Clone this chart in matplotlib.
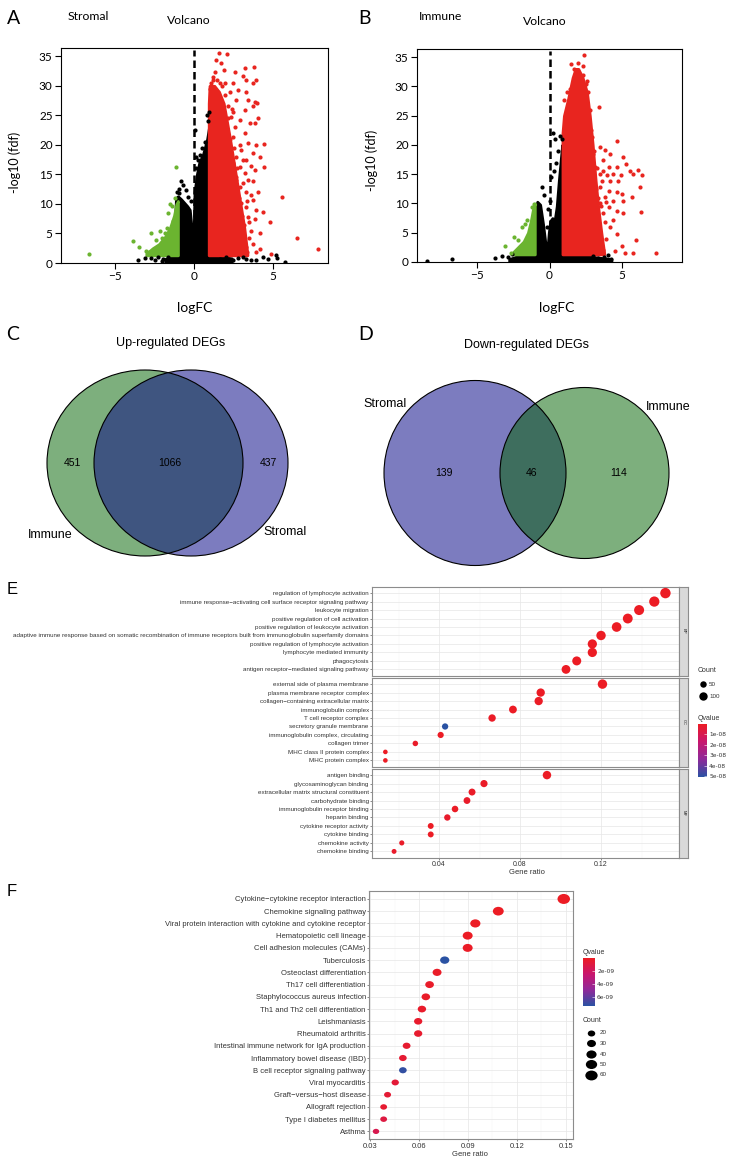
import numpy as np
import matplotlib
matplotlib.use('Agg')
import matplotlib.pyplot as plt
from matplotlib.patches import Ellipse
from matplotlib.path import Path
from matplotlib.transforms import Affine2D
from matplotlib.colors import LinearSegmentedColormap, Normalize
from matplotlib.cm import ScalarMappable

# ---------------- data ----------------
# volcano A (Stromal): dense clouds as upper envelopes, sparse points as pairs
blackA_env_x = [-1.8, -1.3, -1.12, -1.0, -0.8, -0.6, -0.4, -0.25, -0.1, -0.02, 0.05, 0.2, 0.35, 0.6, 0.85, 0.97, 1.0, 1.6, 2.4]
blackA_env_y = [0.7, 1.1, 11.0, 11.3, 10.8, 10.2, 9.6, 9.0, 5.0, 3.0, 12.0, 15.0, 17.0, 18.5, 21.0, 23.0, 1.3, 1.1, 0.8]
redA_env_x = [0.95, 1.0, 1.3, 1.6, 1.9, 2.1, 2.3, 2.6, 2.9, 3.2, 3.4]
redA_env_y = [27, 30, 30, 29, 27, 24, 21, 16, 11, 6, 1.5]
greenA_env_x = [-3.0, -2.6, -2.2, -1.8, -1.5, -1.25, -1.1, -1.0]
greenA_env_y = [1.6, 2.5, 3.2, 4.5, 6.0, 8.0, 10.0, 10.5]
blackA_pts = [(-3.52, 0.57), (-3.1, 0.85), (-2.68, 0.9), (-2.47, 0.57), (-2.26, 1.0), (-1.94, 0.74), (-2.0, 0.3),
              (-1.62, 1.0), (-1.41, 0.57), (1.65, 0.74), (2.07, 1.0), (2.49, 0.57), (2.8, 0.9), (3.12, 1.0),
              (3.33, 0.74), (3.65, 0.57), (3.97, 0.45), (4.39, 1.0), (4.7, 0.74), (5.19, 1.3), (5.27, 0.85),
              (5.76, 0.17), (-0.78, 13.8), (-0.65, 13.2), (-0.5, 12.4), (-0.9, 12.6), (0.84, 25.1), (0.06, 22.6),
              (0.12, 18.0), (0.25, 17.5), (0.5, 19.5), (0.7, 20.5), (0.9, 24.0), (-0.2, 10.5), (-0.35, 11.2),
              (-1.05, 12.0), (-0.95, 11.8), (0.95, 25.5), (0.4, 18.3), (0.15, 16.0)]
redA_pts = [(1.6, 35.6), (2.13, 35.3), (1.43, 34.3), (3.23, 33.0), (3.8, 33.1), (1.33, 32.4), (1.9, 32.6), (2.6, 32.4),
            (3.12, 31.6), (3.33, 31.0), (3.97, 31.0), (2.49, 30.5), (3.76, 30.5), (2.8, 29.3), (3.3, 29.0), (2.28, 29.0),
            (2.7, 27.6), (3.44, 27.6), (3.86, 27.3), (4.0, 27.1), (3.23, 25.9), (3.76, 26.5), (2.38, 24.8), (2.9, 24.2),
            (3.54, 23.7), (3.86, 23.7), (2.6, 23.1), (3.23, 22.0), (2.49, 21.4), (3.44, 20.3), (3.97, 20.0), (4.43, 20.2),
            (3.0, 19.1), (3.76, 18.6), (2.7, 18.0), (3.33, 17.4), (4.43, 16.3), (2.9, 16.3), (3.86, 15.7), (3.23, 15.2),
            (3.44, 14.0), (3.76, 13.8), (2.7, 14.0), (2.9, 12.9), (3.33, 12.1), (5.61, 11.1), (2.6, 11.2), (3.76, 10.6),
            (3.0, 10.1), (3.33, 9.5), (3.97, 8.9), (4.39, 8.7), (2.49, 8.4), (3.44, 7.8), (3.86, 7.5), (4.81, 7.0),
            (3.12, 6.1), (3.65, 5.5), (2.6, 5.0), (4.18, 5.0), (6.56, 4.3), (3.0, 4.1), (3.76, 3.3), (3.33, 2.7),
            (2.9, 2.4), (4.18, 2.4), (4.87, 1.6), (7.87, 2.4), (2.28, 1.9), (3.97, 1.9), (1.2, 31.5), (1.5, 31.0),
            (1.8, 30.0), (1.1, 30.5), (1.7, 33.8), (2.2, 26.5), (2.0, 28.5), (2.4, 26.0), (2.55, 19.5), (2.2, 24.5),
            (3.1, 13.5), (2.8, 9.0), (3.6, 11.5), (3.1, 3.0), (2.75, 6.5), (3.5, 4.2), (4.1, 12.0), (4.2, 18.0),
            (3.6, 16.5), (4.05, 24.5), (2.3, 21.0), (2.5, 17.0), (2.65, 14.5), (2.85, 11.0), (3.05, 8.0), (3.2, 6.5),
            (2.45, 12.0), (2.75, 16.0), (2.1, 22.0), (2.95, 20.0), (3.15, 17.5), (2.5, 25.5), (1.95, 30.5),
            (3.4, 10.5), (3.5, 7.0), (2.3, 3.5), (2.6, 2.0), (3.4, 1.8), (1.4, 1.5), (1.8, 1.6), (1.25, 31.0),
            (1.0, 29.5), (1.65, 30.5)]
greenA_pts = [(-6.65, 1.47), (-3.84, 3.74), (-3.48, 2.7), (-2.68, 5.1), (-2.15, 5.5), (-1.84, 5.1), (-1.52, 5.5),
              (-1.52, 10.0), (-1.1, 16.3), (-1.31, 7.1), (-1.62, 8.4), (-2.36, 3.85), (-3.0, 2.0), (-2.8, 1.8),
              (-1.2, 11.0), (-1.4, 9.6), (-2.0, 4.3), (-1.7, 6.0)]

# volcano B (Immune)
blackB_env_x = [-2.8, -2.2, -1.1, -1.02, -0.85, -0.65, -0.45, -0.3, -0.15, -0.05, 0.05, 0.2, 0.35, 0.5, 0.65, 0.8, 0.88, 0.92, 2.5, 4.3]
blackB_env_y = [0.5, 1.0, 1.1, 8.5, 10.3, 9.8, 6.5, 3.5, 2.0, 5.0, 7.0, 7.5, 7.0, 9.5, 14.0, 18.0, 20.0, 1.2, 1.0, 0.5]
redB_env_x = [0.9, 1.0, 1.3, 1.6, 1.8, 2.0, 2.3, 2.6, 2.8, 3.0, 3.2, 3.4, 3.6, 3.8]
redB_env_y = [22, 25, 28, 31.5, 33, 33, 31.5, 29, 25, 20, 14, 9, 5, 1.5]
greenB_env_x = [-2.6, -2.2, -1.8, -1.5, -1.3, -1.15, -1.02]
greenB_env_y = [1.5, 2.5, 3.5, 5.0, 7.0, 9.0, 10.0]
blackB_pts = [(-8.5, 0.1), (-6.8, 0.5), (-3.8, 0.7), (-3.3, 1.0), (-2.9, 0.8), (-2.6, 1.3), (3.0, 1.1), (3.4, 0.6),
              (3.8, 0.9), (4.05, 1.2), (4.3, 0.5), (-0.5, 12.8), (0.25, 22.1), (0.4, 21.0), (0.1, 14.5), (0.3, 15.5),
              (0.45, 17.0), (0.6, 19.0), (0.75, 21.5), (0.85, 21.0), (0.05, 10.5), (-0.35, 11.5), (-0.2, 6.0), (-0.1, 9.0)]
redB_pts = [(2.41, 35.3), (3.44, 26.5), (3.5, 19.6), (4.66, 20.6), (3.85, 19.1), (4.2, 18.5), (5.1, 17.9), (5.3, 16.8),
            (4.66, 16.2), (4.1, 16.2), (3.74, 15.6), (3.5, 15.1), (4.4, 15.1), (4.93, 14.8), (5.8, 15.1), (6.15, 15.8),
            (6.45, 14.9), (5.57, 15.5), (3.62, 13.9), (4.2, 13.9), (4.77, 13.9), (6.26, 12.8), (3.5, 12.8), (4.1, 12.2),
            (4.66, 12.0), (5.0, 11.7), (5.7, 11.1), (3.85, 11.1), (4.43, 10.5), (5.1, 10.5), (3.5, 10.0), (3.05, 10.0),
            (4.1, 9.4), (4.66, 8.8), (5.1, 8.3), (6.37, 8.5), (3.74, 8.3), (3.28, 6.8), (3.85, 6.8), (4.43, 7.1),
            (4.2, 6.0), (4.66, 4.8), (3.5, 4.8), (6.03, 3.7), (5.0, 2.8), (4.54, 1.9), (5.23, 1.6), (5.8, 1.6),
            (7.4, 1.6), (2.94, 4.8), (2.7, 3.7), (3.28, 2.6), (3.74, 2.0), (1.67, 33.0), (2.0, 34.0), (2.1, 27.6),
            (2.82, 25.9), (2.7, 23.0), (2.94, 21.3), (3.05, 18.5), (3.17, 16.2), (2.6, 13.9), (2.82, 11.7), (2.48, 9.4),
            (0.99, 27.6), (1.1, 24.8), (1.5, 33.8), (1.9, 32.8), (2.3, 32.0), (2.55, 30.5), (2.65, 29.0), (1.4, 29.5),
            (2.9, 22.5), (3.1, 19.0), (3.3, 16.0), (3.2, 12.5), (3.4, 11.0), (3.6, 9.5), (3.0, 7.5), (3.2, 4.0),
            (3.9, 4.0), (2.6, 31.0), (2.3, 33.5), (1.2, 29.0), (3.7, 17.5), (4.0, 14.8), (3.9, 10.2)]
greenB_pts = [(-3.07, 2.7), (-2.45, 4.2), (-2.2, 3.7), (-1.88, 6.0), (-1.54, 7.1), (-1.19, 9.4), (-1.1, 9.9),
              (-2.7, 1.6), (-1.7, 6.5)]

# venn counts: [left only, both, right only]
up_counts = [451, 1066, 437]
down_counts = [139, 46, 114]

# GO enrichment
bp_terms = ['regulation of lymphocyte activation',
            'immune response\u2212activating cell surface receptor signaling pathway',
            'leukocyte migration', 'positive regulation of cell activation',
            'positive regulation of leukocyte activation',
            'adaptive immune response based on somatic recombination of immune receptors built from immunoglobulin superfamily domains',
            'positive regulation of lymphocyte activation', 'lymphocyte mediated immunity', 'phagocytosis',
            'antigen receptor\u2212mediated signaling pathway']
bp_ratio = [0.1518, 0.1463, 0.1388, 0.1332, 0.1277, 0.1200, 0.1157, 0.1157, 0.1080, 0.1027]
bp_count = [167, 161, 153, 147, 140, 132, 127, 127, 119, 113]
bp_q = [2.1e-12, 3.4e-12, 2.8e-12, 4.0e-12, 5.1e-12, 3.3e-12, 6.2e-12, 4.4e-12, 7.0e-12, 5.5e-12]

cc_terms = ['external side of plasma membrane', 'plasma membrane receptor complex',
            'collagen\u2212containing extracellular matrix', 'immunoglobulin complex', 'T cell receptor complex',
            'secretory granule membrane', 'immunoglobulin complex, circulating', 'collagen trimer',
            'MHC class II protein complex', 'MHC protein complex']
cc_ratio = [0.1207, 0.0902, 0.0892, 0.0765, 0.0662, 0.0430, 0.0408, 0.0283, 0.0135, 0.0135]
cc_count = [133, 99, 98, 84, 73, 47, 45, 31, 15, 15]
cc_q = [1.2e-10, 3.5e-10, 4.1e-10, 2.2e-10, 6.0e-10, 5.05e-08, 2.0e-10, 1.5e-09, 3.0e-10, 3.2e-10]

mf_terms = ['antigen binding', 'glycosaminoglycan binding', 'extracellular matrix structural constituent',
            'carbohydrate binding', 'immunoglobulin receptor binding', 'heparin binding',
            'cytokine receptor activity', 'cytokine binding', 'chemokine activity', 'chemokine binding']
mf_ratio = [0.0933, 0.0622, 0.0563, 0.0538, 0.0479, 0.0441, 0.0359, 0.0359, 0.0216, 0.0178]
mf_count = [103, 68, 62, 59, 53, 49, 39, 39, 24, 20]
mf_q = [2.0e-10, 9.0e-10, 1.1e-09, 1.4e-09, 5.0e-10, 1.8e-09, 3.0e-10, 3.0e-10, 1.2e-09, 1.6e-09]

# KEGG enrichment
kegg_terms = ['Cytokine\u2212cytokine receptor interaction', 'Chemokine signaling pathway',
              'Viral protein interaction with cytokine and cytokine receptor', 'Hematopoietic cell lineage',
              'Cell adhesion molecules (CAMs)', 'Tuberculosis', 'Osteoclast differentiation',
              'Th17 cell differentiation', 'Staphylococcus aureus infection', 'Th1 and Th2 cell differentiation',
              'Leishmaniasis', 'Rheumatoid arthritis', 'Intestinal immune network for IgA production',
              'Inflammatory bowel disease (IBD)', 'B cell receptor signaling pathway', 'Viral myocarditis',
              'Graft\u2212versus\u2212host disease', 'Allograft rejection', 'Type I diabetes mellitus', 'Asthma']
kegg_ratio = [0.1488, 0.1086, 0.0945, 0.0898, 0.0898, 0.0757, 0.0710, 0.0664, 0.0641, 0.0617,
              0.0594, 0.0594, 0.0523, 0.0500, 0.0500, 0.0453, 0.0406, 0.0382, 0.0382, 0.0335]
kegg_count = [62, 46, 40, 38, 38, 32, 30, 28, 27, 26, 25, 25, 22, 21, 21, 19, 17, 16, 16, 14]
kegg_q = [1.0e-10, 1.2e-10, 1.5e-10, 1.3e-10, 2.0e-10, 7.4e-09, 2.5e-10, 3.0e-10, 2.8e-10, 3.5e-10,
          4.0e-10, 4.2e-10, 5.0e-10, 6.0e-10, 7.2e-09, 7.5e-10, 6.5e-10, 5.5e-10, 1.1e-09, 1.5e-09]

go_count_breaks = [50, 100]
kegg_count_breaks = [20, 30, 40, 50, 60]

# ---------------- figure ----------------
W, H = 747, 1161
fig = plt.figure(figsize=(W / 100, H / 100), dpi=100)
VF = ['Lato', 'DejaVu Sans']
SF = ['Liberation Sans', 'DejaVu Sans']
RED, GREEN = '#E8251F', '#6BB430'
TXT = '#333333'


def box(l, t, r, b):
    return [l / W, 1 - b / H, (r - l) / W, (b - t) / H]


ov = fig.add_axes([0, 0, 1, 1])
ov.set_xlim(0, W)
ov.set_ylim(H, 0)
ov.axis('off')


def volcano(rect, benv, renv, genv, bpts, rpts, gpts, xlim):
    ax = fig.add_axes(rect)
    ax.fill_between(benv[0], 0, benv[1], color='black', lw=2, zorder=2)
    ax.fill_between(renv[0], 1.3, renv[1], color=RED, lw=2, zorder=3)
    ax.fill_between(genv[0], 1.3, genv[1], color=GREEN, lw=2, zorder=3)
    for pts, col in [(bpts, 'black'), (rpts, RED), (gpts, GREEN)]:
        p = np.array(pts)
        ax.scatter(p[:, 0], p[:, 1], s=9, c=col, lw=0, zorder=4)
    ax.plot([0, 0], [0, 36], ls=(0, (3, 1.6)), color='black', lw=1.8, zorder=2.5)
    ax.set_xlim(*xlim)
    ax.set_ylim(0, 36.4)
    ax.set_xticks([-5, 0, 5])
    ax.set_yticks([0, 5, 10, 15, 20, 25, 30, 35])
    ax.tick_params(direction='out', length=4, width=0.8, labelsize=8.5, pad=2)
    for lab in ax.get_xticklabels() + ax.get_yticklabels():
        lab.set_family(VF)
    for s in ax.spines.values():
        s.set_linewidth(0.8)
    return ax


volcano(box(61, 48, 328, 263), (blackA_env_x, blackA_env_y), (redA_env_x, redA_env_y),
        (greenA_env_x, greenA_env_y), blackA_pts, redA_pts, greenA_pts, (-8.4, 8.5))
volcano(box(417, 49, 682, 262), (blackB_env_x, blackB_env_y), (redB_env_x, redB_env_y),
        (greenB_env_x, greenB_env_y), blackB_pts, redB_pts, greenB_pts, (-9.2, 9.2))

# volcano texts
for x, y, t in [(7, 18.5, 'A'), (358, 18.5, 'B'), (6, 335, 'C'), (358, 335, 'D')]:
    ov.text(x, y, t, fontsize=14, family=VF, ha='left', va='center')
ov.text(68, 17, 'Stromal', fontsize=8.8, family=VF, va='center')
ov.text(167, 20, 'Volcano', fontsize=8.8, family=VF, va='center')
ov.text(419, 17, 'Immune', fontsize=8.8, family=VF, va='center')
ov.text(523, 21.5, 'Volcano', fontsize=8.8, family=VF, va='center')
ov.text(15, 162, '-log10 (fdf)', fontsize=9, family=VF, rotation=90, ha='center', va='center')
ov.text(372, 160, '-log10 (fdf)', fontsize=9, family=VF, rotation=90, ha='center', va='center')
ov.text(195, 308, 'logFC', fontsize=10, family=VF, ha='center', va='center')
ov.text(557, 308, 'logFC', fontsize=10, family=VF, ha='center', va='center')

# ---------------- venn ----------------
VG, VP = '#7DAF7D', '#7C7CBF'


def venn(c1, s1, col1, c2, s2, col2, colx):
    e1 = Ellipse(c1, s1[0], s1[1], fc=col1, ec='none')
    e2 = Ellipse(c2, s2[0], s2[1], fc=col2, ec='none')
    ov.add_patch(e1)
    ov.add_patch(e2)
    ex = Ellipse(c2, s2[0], s2[1], fc=colx, ec='none')
    ov.add_patch(ex)
    ex.set_clip_path(e1)
    for c, s in [(c1, s1), (c2, s2)]:
        ov.add_patch(Ellipse(c, s[0], s[1], fc='none', ec='black', lw=0.8))


venn((145, 463), (196, 186), VG, (191, 463), (194, 186), VP, '#3F5580')
venn((475, 473), (182, 185), VP, (584.5, 473), (169, 171), VG, '#3E6E5E')
ov.text(171, 343, 'Up-regulated DEGs', fontsize=9, family=SF, ha='center', va='center')
ov.text(526, 345, 'Down-regulated DEGs', fontsize=9, family=SF, ha='center', va='center')
for x, v in zip([72, 170, 268], up_counts):
    ov.text(x, 463, str(v), fontsize=7.5, family=SF, ha='center', va='center')
for x, v in zip([444, 531, 619], down_counts):
    ov.text(x, 473, str(v), fontsize=7.5, family=SF, ha='center', va='center')
ov.text(50, 535, 'Immune', fontsize=9, family=SF, ha='center', va='center')
ov.text(285, 532, 'Stromal', fontsize=9, family=SF, ha='center', va='center')
ov.text(385, 404, 'Stromal', fontsize=9, family=SF, ha='center', va='center')
ov.text(668, 407, 'Immune', fontsize=9, family=SF, ha='center', va='center')

# ---------------- dot plots ----------------
cmap = LinearSegmentedColormap.from_list('q', ['#EC1C24', '#C8166E', '#8E2A9A', '#2A52A3'])


def size_go(c):
    d = np.sqrt((10 + 0.45 * np.asarray(c, float)) * 4 / np.pi)
    return (d * 0.72) ** 2


def size_kegg(c):
    d = np.sqrt((5.5 + 1.49 * np.asarray(c, float)) * 4 / np.pi) * 1.12
    return (d * 0.72) ** 2


oval = Path.unit_circle().transformed(Affine2D().scale(1.25, 1.0))


def style_dot_axes(ax, majors, minors, xlim, nrows, show_x):
    ax.set_xlim(*xlim)
    ax.set_ylim(nrows - 1 + 0.72, -0.72)
    ax.set_xticks(majors)
    ax.set_xticks(minors, minor=True)
    ax.set_axisbelow(True)
    ax.grid(which='major', color='#E6E6E6', lw=0.5)
    ax.grid(which='minor', axis='x', color='#F3F3F3', lw=0.35)
    ax.tick_params(which='minor', length=0)
    ax.tick_params(axis='y', length=1.5, width=0.4, color=TXT, pad=0.8, labelcolor=TXT)
    ax.tick_params(axis='x', length=1.5, width=0.4, color=TXT, pad=1.3, labelcolor=TXT,
                   bottom=show_x, labelbottom=show_x)
    for s in ax.spines.values():
        s.set_color('#8C8C8C')
        s.set_linewidth(0.8)


go_all_q = bp_q + cc_q + mf_q
go_norm = Normalize(min(go_all_q), max(go_all_q))
facets = [('BP', bp_terms, bp_ratio, bp_count, bp_q, 587, 675.5),
          ('CC', cc_terms, cc_ratio, cc_count, cc_q, 678, 766.5),
          ('MF', mf_terms, mf_ratio, mf_count, mf_q, 769, 857.5)]
for k, (name, terms, ratio, count, q, t, b) in enumerate(facets):
    ax = fig.add_axes(box(372, t, 679, b))
    ax.scatter(ratio, range(len(terms)), s=size_go(count), c=q, cmap=cmap, norm=go_norm, lw=0, zorder=3)
    style_dot_axes(ax, [0.04, 0.08, 0.12], [0.02, 0.06, 0.10, 0.14], (0.0069, 0.1585), len(terms), k == 2)
    ax.set_yticks(range(len(terms)))
    ax.set_yticklabels(terms, fontsize=4.5, family=SF)
    ax.set_xticklabels(['0.04', '0.08', '0.12'], fontsize=5, family=SF)
    st = fig.add_axes(box(679, t, 688, b))
    st.set_facecolor('#D9D9D9')
    st.set_xticks([])
    st.set_yticks([])
    for s in st.spines.values():
        s.set_color('#8C8C8C')
        s.set_linewidth(0.8)
    st.text(0.5, 0.5, name, rotation=270, fontsize=3, family=SF, ha='center', va='center',
            transform=st.transAxes, color='#1A1A1A')

ov.text(7, 589, 'E', fontsize=12, family=SF, va='center')
ov.text(527, 872, 'Gene ratio', fontsize=5.5, family=SF, ha='center', va='center', color=TXT)
ov.text(698, 671, 'Count', fontsize=5, family=SF, va='center', color=TXT)
for y, c in zip([684, 696], go_count_breaks):
    ov.scatter([702.7], [y], s=size_go(c), c='black', lw=0)
    ov.text(709, y, str(c), fontsize=4.5, family=SF, va='center', color=TXT)
ov.text(698, 718, 'Qvalue', fontsize=5, family=SF, va='center', color=TXT)
cax = fig.add_axes(box(698, 724, 707, 777))
cb = fig.colorbar(ScalarMappable(go_norm, cmap), cax=cax)
cb.set_ticks([1e-08, 2e-08, 3e-08, 4e-08, 5e-08])
cb.set_ticklabels(['1e-08', '2e-08', '3e-08', '4e-08', '5e-08'])
cax.invert_yaxis()
cb.outline.set_visible(False)
cax.tick_params(length=2, width=0.4, color='white', direction='in', labelsize=4.2, pad=1.5, labelcolor=TXT)

# KEGG
kegg_norm = Normalize(min(kegg_q), max(kegg_q))
axf = fig.add_axes(box(369, 891, 572.7, 1139))
axf.scatter(kegg_ratio, range(len(kegg_terms)), s=size_kegg(kegg_count), c=kegg_q, cmap=cmap,
            norm=kegg_norm, lw=0, marker=oval, zorder=3)
style_dot_axes(axf, [0.03, 0.06, 0.09, 0.12, 0.15], [0.045, 0.075, 0.105, 0.135], (0.0292, 0.1543),
               len(kegg_terms), True)
axf.set_ylim(len(kegg_terms) - 1 + 0.62, -0.65)
axf.set_yticks(range(len(kegg_terms)))
axf.set_yticklabels(kegg_terms, fontsize=5.5, family=SF)
axf.set_xticklabels(['0.03', '0.06', '0.09', '0.12', '0.15'], fontsize=5.5, family=SF)

ov.text(7, 892, 'F', fontsize=12, family=SF, va='center')
ov.text(470, 1154, 'Gene ratio', fontsize=5.5, family=SF, ha='center', va='center', color=TXT)
ov.text(583, 952, 'Qvalue', fontsize=5, family=SF, va='center', color=TXT)
cax2 = fig.add_axes(box(583.3, 958.3, 595, 1006))
cb2 = fig.colorbar(ScalarMappable(kegg_norm, cmap), cax=cax2)
cb2.set_ticks([2e-09, 4e-09, 6e-09])
cb2.set_ticklabels(['2e-09', '4e-09', '6e-09'])
cax2.invert_yaxis()
cb2.outline.set_visible(False)
cax2.tick_params(length=2, width=0.4, color='white', direction='in', labelsize=4.2, pad=1.5, labelcolor=TXT)
ov.text(583, 1021, 'Count', fontsize=5, family=SF, va='center', color=TXT)
for y, c in zip([1033, 1043.3, 1054, 1064.3, 1075], kegg_count_breaks):
    ov.scatter([590.7], [y], s=size_kegg(c), c='black', lw=0, marker=oval)
    ov.text(600, y, str(c), fontsize=4.5, family=SF, va='center', color=TXT)

fig.savefig('out.png', dpi=100)
